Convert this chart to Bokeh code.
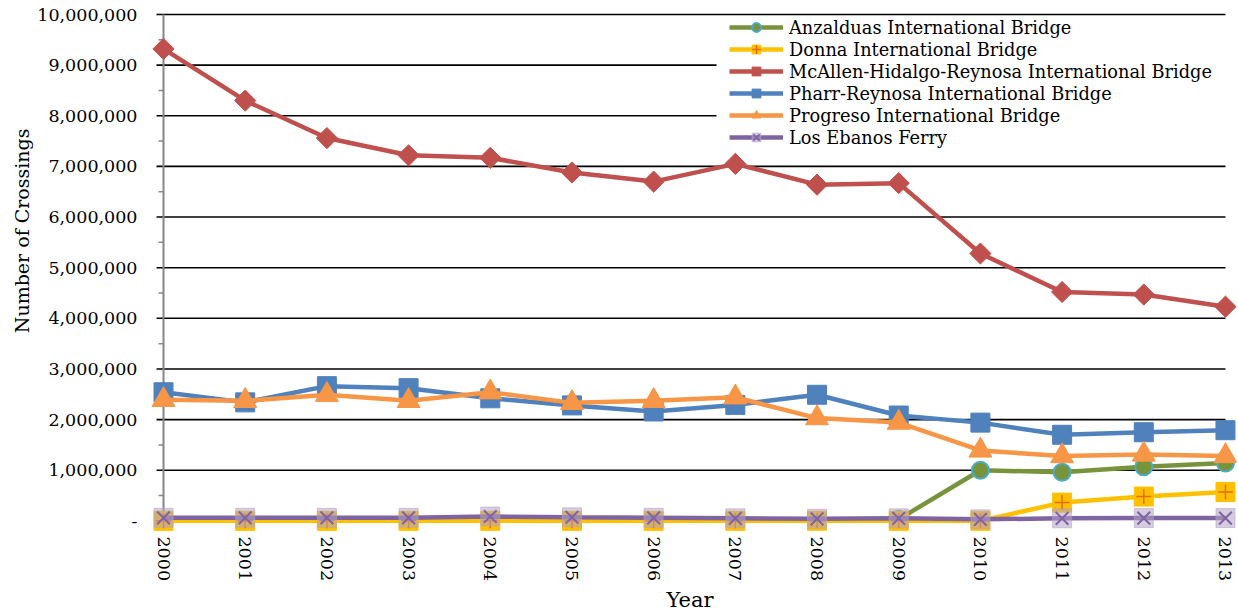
import math
from bokeh.plotting import figure
from bokeh.models import (ColumnDataSource, Legend, LegendItem, FixedTicker,
                          SingleIntervalTicker, CustomJSTickFormatter, Title,
                          Range1d, BoxAnnotation)
from bokeh.embed import file_html
from bokeh.resources import INLINE

nan = float("nan")

years = list(range(2000, 2014))
anzalduas = [nan, nan, nan, nan, nan, nan, nan, nan, nan,
             30000, 1000000, 960000, 1070000, 1140000]
donna = [0, 0, 0, 0, 0, 0, 0, 0, 0, 0, 0, 360000, 480000, 570000]
mcallen = [9320000, 8300000, 7560000, 7220000, 7170000, 6880000, 6700000,
           7050000, 6640000, 6670000, 5280000, 4520000, 4470000, 4230000]
pharr = [2540000, 2340000, 2660000, 2620000, 2420000, 2280000, 2160000,
         2290000, 2490000, 2080000, 1940000, 1700000, 1750000, 1790000]
progreso = [2390000, 2370000, 2490000, 2370000, 2540000, 2330000, 2370000,
            2440000, 2030000, 1940000, 1390000, 1280000, 1310000, 1280000]
los_ebanos = [60000, 60000, 60000, 60000, 85000, 70000, 60000,
              50000, 40000, 50000, 30000, 50000, 55000, 55000]

names = ["Anzalduas International Bridge", "Donna International Bridge",
         "McAllen-Hidalgo-Reynosa International Bridge",
         "Pharr-Reynosa International Bridge", "Progreso International Bridge",
         "Los Ebanos Ferry"]

y_ticks = [0, 1000000, 2000000, 3000000, 4000000, 5000000, 6000000,
           7000000, 8000000, 9000000, 10000000]
y_minor = [(a + b) / 2 for a, b in zip(y_ticks[:-1], y_ticks[1:])]

FONT = "DejaVu Serif"

p = figure(width=1238, height=615,
           x_range=Range1d(1999.755, 2013.135),
           y_range=Range1d(-250000, 10040000),
           output_backend="svg", toolbar_location=None,
           min_border_left=143, min_border_right=2,
           min_border_top=12, min_border_bottom=80)
p.outline_line_color = None
p.background_fill_color = "white"
p.border_fill_color = "white"
p.xgrid.visible = False
p.ygrid.visible = False

x0 = years[0]
x_end = years[-1]
major_out = 7 / 81.69   # tick length in data units
minor_out = 5 / 81.69

# horizontal grid lines (with their outward tick stubs)
n = len(y_ticks) - 1
p.segment(x0=[x0 - major_out] * n, x1=[x_end] * n,
          y0=y_ticks[1:], y1=y_ticks[1:], line_color="black", line_width=1.6)
# minor ticks
p.segment(x0=[x0 - minor_out] * len(y_minor), x1=[x0] * len(y_minor),
          y0=y_minor, y1=y_minor, line_color="#868686", line_width=1.5)
# vertical axis line at the first year
p.segment(x0=[x0], x1=[x0], y0=[y_ticks[0]], y1=[y_ticks[-1]],
          line_color="#868686", line_width=2)

# white box behind legend
p.add_layout(BoxAnnotation(left=2006.77, right=2013.1, top=9960000, bottom=7330000,
                           fill_color="white", fill_alpha=1.0, line_color=None))

src = ColumnDataSource(dict(x=years, anz=anzalduas, don=donna, mca=mcallen,
                            pha=pharr, pro=progreso, los=los_ebanos))

LW = 4.5
items = []

# Anzalduas
l1 = p.line("x", "anz", source=src, line_color="#77933C", line_width=LW)
m1 = p.scatter("x", "anz", source=src, marker="circle", size=17,
               fill_color="#77933C", line_color="#4BACC6", line_width=2)
items.append(LegendItem(label=names[0], renderers=[l1, m1]))

# Donna
l2 = p.line("x", "don", source=src, line_color="#FFC000", line_width=LW)
m2 = p.scatter("x", "don", source=src, marker="square", size=19,
               fill_color="#FFC000", line_color="#FFC000", line_width=1)
m2b = p.scatter("x", "don", source=src, marker="cross", size=15,
                line_color="#E46C0A", line_width=1.5)
items.append(LegendItem(label=names[1], renderers=[l2, m2, m2b]))

# McAllen
l3 = p.line("x", "mca", source=src, line_color="#C0504D", line_width=LW)
m3 = p.scatter("x", "mca", source=src, marker="square", size=15, angle=math.pi / 4,
               fill_color="#C0504D", line_color="#C0504D", line_width=1)
items.append(LegendItem(label=names[2], renderers=[l3, m3]))

# Pharr
l4 = p.line("x", "pha", source=src, line_color="#4F81BD", line_width=LW)
m4 = p.scatter("x", "pha", source=src, marker="square", size=19,
               fill_color="#4F81BD", line_color="#4F81BD", line_width=1)
items.append(LegendItem(label=names[3], renderers=[l4, m4]))

# Progreso
l5 = p.line("x", "pro", source=src, line_color="#F79646", line_width=LW)
m5 = p.scatter("x", "pro", source=src, marker="triangle", size=23,
               fill_color="#F79646", line_color="#F79646", line_width=1)
items.append(LegendItem(label=names[4], renderers=[l5, m5]))

# Los Ebanos
l6 = p.line("x", "los", source=src, line_color="#8064A2", line_width=LW)
m6 = p.scatter("x", "los", source=src, marker="square", size=19,
               fill_color="#B3A2C7", fill_alpha=0.55, line_color="#B3A2C7",
               line_alpha=0.55, line_width=1)
m6b = p.scatter("x", "los", source=src, marker="x", size=18,
                line_color="#8064A2", line_width=2)
items.append(LegendItem(label=names[5], renderers=[l6, m6, m6b]))

legend = Legend(items=items, location=(586, 385), orientation="vertical",
                padding=0, margin=0, spacing=0, label_height=22, glyph_height=22,
                glyph_width=54, label_standoff=6, border_line_color=None,
                background_fill_alpha=0.0,
                label_text_font=FONT, label_text_font_size="17.8px",
                label_text_color="black")
p.add_layout(legend)

# y axis (labels only; line and ticks drawn above)
ya = p.yaxis[0]
ya.ticker = SingleIntervalTicker(interval=1000000, num_minor_ticks=2)
ya.bounds = (y_ticks[0], y_ticks[-1])
ya.formatter = CustomJSTickFormatter(
    code="return tick == 0 ? '-' : Math.round(tick).toLocaleString('en-US');")
ya.axis_line_color = None
ya.major_tick_out = 0
ya.major_tick_in = 0
ya.minor_tick_out = 0
ya.minor_tick_in = 0
ya.major_label_standoff = 6
ya.major_label_text_font = FONT
ya.major_label_text_font_size = "17.5px"
ya.major_label_text_color = "black"

# x axis
xa = p.xaxis[0]
xa.ticker = FixedTicker(ticks=years)
xa.axis_line_color = None
xa.major_tick_out = 0
xa.major_tick_in = 0
xa.minor_tick_out = 0
xa.minor_tick_in = 0
xa.major_label_orientation = -math.pi / 2
xa.major_label_standoff = 3
xa.major_label_text_font = FONT
xa.major_label_text_font_size = "17.5px"
xa.major_label_text_color = "black"
xa.axis_label = "Year"
xa.axis_label_standoff = 4
xa.axis_label_text_font = FONT
xa.axis_label_text_font_size = "21px"
xa.axis_label_text_font_style = "normal"
xa.axis_label_text_color = "black"

# y axis title
p.add_layout(Title(text="Number of Crossings", align="right", offset=116,
                   text_font=FONT, text_font_size="19px", text_font_style="normal",
                   text_color="black", standoff=4), "left")

open("out.html", "w").write(file_html(p, INLINE))
